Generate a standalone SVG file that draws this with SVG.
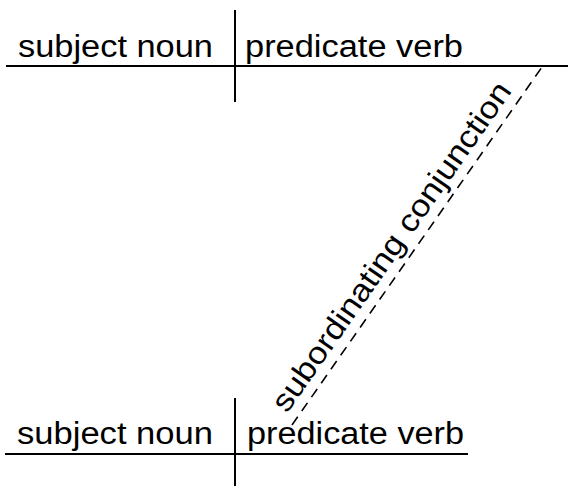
<svg xmlns="http://www.w3.org/2000/svg" width="568" height="486" viewBox="0 0 568 486">
<style>
.t{font-family:"Liberation Sans",Arial,sans-serif;font-size:31px;fill:#000}
.ln{stroke:#000;stroke-width:2;fill:none}
.dash{stroke:#000;stroke-width:1.6;stroke-dasharray:10 7;fill:none}
</style>
<rect width="568" height="486" fill="#fff"/>
<g id="connectors">
<line class="ln" x1="6" y1="66" x2="568" y2="66"/>
<line class="ln" x1="235" y1="10" x2="235" y2="102"/>
<line class="ln" x1="5" y1="454" x2="468" y2="454"/>
<line class="ln" x1="235" y1="398" x2="235" y2="486"/>
<line class="dash" x1="292" y1="425" x2="542" y2="67"/>
</g>
<g id="top-subject"><text class="t" x="18" y="57" textLength="195" lengthAdjust="spacingAndGlyphs">subject noun</text></g>
<g id="top-predicate"><text class="t" x="245" y="57" textLength="218" lengthAdjust="spacingAndGlyphs">predicate verb</text></g>
<g id="bottom-subject"><text class="t" x="17" y="444" textLength="196" lengthAdjust="spacingAndGlyphs">subject noun</text></g>
<g id="bottom-predicate"><text class="t" x="247" y="444" textLength="217" lengthAdjust="spacingAndGlyphs">predicate verb</text></g>
<g id="conjunction"><text class="t" transform="translate(287,414) rotate(-55.07)" x="0" y="0" textLength="394" lengthAdjust="spacingAndGlyphs">subordinating conjunction</text></g>
</svg>
